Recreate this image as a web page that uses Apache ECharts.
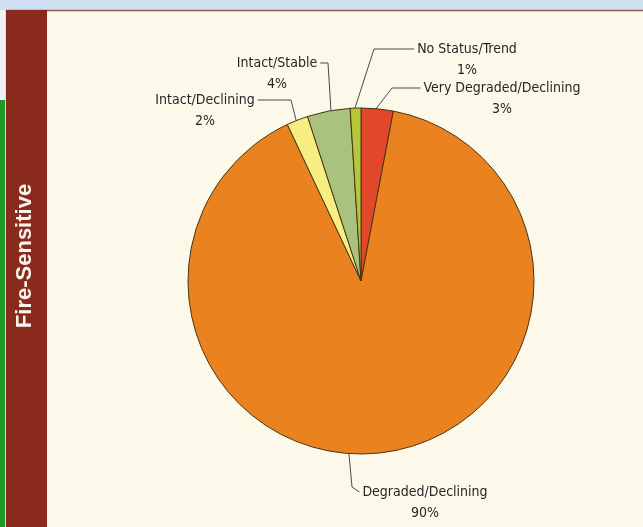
<!DOCTYPE html>
<html>
<head>
<meta charset="utf-8">
<script src="https://cdn.jsdelivr.net/npm/echarts@6/dist/echarts.min.js"></script>
<style>
  html, body { margin: 0; padding: 0; background: #cfdff2; }
  #chart { width: 643px; height: 527px; }
</style>
</head>
<body>
<div id="chart"></div>
<script>
// Condition classes of fire-sensitive systems and their share of the total
const categories = ['Very Degraded/Declining', 'Degraded/Declining', 'Intact/Declining', 'Intact/Stable', 'No Status/Trend'];
const shares = [3, 90, 2, 4, 1];
const sliceColors = ['#e0472b', '#e9821f', '#f6ee80', '#a9c27e', '#b7c73c'];
const panelTitle = 'Fire-Sensitive';

const PIE_CENTER = [361, 281];
const PIE_RADIUS = 173;

// Label block centre, the side the leader meets, the bend point of the leader,
// and the angle (degrees clockwise from 12 o'clock) where it touches the rim.
const labelSpots = [
  { x: 502, y: 98.5, side: 'left',  bend: [392, 88],  rim: 5 },
  { x: 425, y: 502.5, side: 'left', bend: [352, 487], rim: 184 },
  { x: 205, y: 110.5, side: 'right', bend: [291, 100], rim: 338 },
  { x: 277, y: 73.5, side: 'right', bend: [328, 63],  rim: 350 },
  { x: 467, y: 59.5, side: 'left',  bend: [374, 49],  rim: 358 }
];

function rimPoint(deg) {
  const a = deg * Math.PI / 180;
  return [PIE_CENTER[0] + PIE_RADIUS * Math.sin(a), PIE_CENTER[1] - PIE_RADIUS * Math.cos(a)];
}

const chart = echarts.init(document.getElementById('chart'), null, { renderer: 'canvas' });

const labelFont = '"Liberation Sans Narrow", "DejaVu Sans Condensed", "Liberation Sans", sans-serif';

chart.setOption({
  backgroundColor: '#cfdff2',
  animation: false,
  graphic: {
    elements: [
      // cream panel
      { type: 'rect', z: -10, shape: { x: 47, y: 10, width: 596, height: 517 }, style: { fill: '#fdf9ea' } },
      // top border of panel
      { type: 'line', z: -9, shape: { x1: 6, y1: 10.5, x2: 643, y2: 10.5 }, style: { stroke: '#8f5a4c', lineWidth: 1.5 } },
      // green edge on the far left
      { type: 'rect', z: -10, shape: { x: 0, y: 100, width: 5, height: 427 }, style: { fill: '#1f9a2a' } },
      { type: 'rect', z: -10, shape: { x: 0, y: 10, width: 5, height: 90 }, style: { fill: '#eef2f4' } },
      // side title bar
      { type: 'rect', z: -9, shape: { x: 6, y: 10, width: 41, height: 517 }, style: { fill: '#8a2a1c' } },
      {
        type: 'text', z: 5, x: 25, y: 256, rotation: Math.PI / 2,
        style: {
          text: panelTitle, fill: '#fbf3ee', align: 'center', verticalAlign: 'middle',
          font: 'bold 22px "Liberation Sans", Arial, sans-serif'
        }
      }
    ]
  },
  series: [{
    type: 'pie',
    center: PIE_CENTER,
    radius: PIE_RADIUS,
    startAngle: 90,
    clockwise: true,
    avoidLabelOverlap: false,
    itemStyle: { borderColor: '#4a3512', borderWidth: 1 },
    label: {
      show: true,
      position: 'outside',
      formatter: '{b}\n{d}%',
      color: '#262626',
      fontFamily: labelFont,
      fontSize: 14,
      lineHeight: 21,
      align: 'center'
    },
    labelLine: { show: true, lineStyle: { color: '#4a4a4a', width: 1 } },
    labelLayout: function (params) {
      const s = labelSpots[params.dataIndex];
      const w = params.labelRect.width;
      const firstLineY = s.y - 10.5;
      const endX = s.side === 'left' ? s.x - w / 2 - 3 : s.x + w / 2 + 3;
      return {
        x: s.x,
        y: s.y,
        align: 'center',
        verticalAlign: 'middle',
        labelLinePoints: [rimPoint(s.rim), s.bend, [endX, firstLineY]]
      };
    },
    data: categories.map(function (name, i) {
      return { name: name, value: shares[i], itemStyle: { color: sliceColors[i] } };
    })
  }]
});
</script>
</body>
</html>
